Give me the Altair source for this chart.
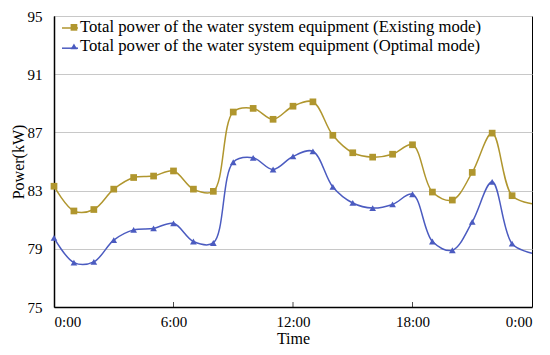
import altair as alt
import pandas as pd

hours = list(range(25))
existing = [83.3, 81.6, 81.7, 83.1, 83.9, 84.0, 84.35, 83.1, 82.95, 88.4, 88.65, 87.9,
            88.8, 89.1, 86.8, 85.6, 85.3, 85.5, 86.15, 82.9, 82.35, 84.25, 86.95, 82.65, 82.1]
optimal = [79.75, 78.05, 78.1, 79.6, 80.3, 80.4, 80.75, 79.5, 79.4, 84.95, 85.25, 84.45,
           85.35, 85.7, 83.25, 82.15, 81.8, 82.05, 82.75, 79.5, 78.9, 80.85, 83.6, 79.35, 78.7]
series_names = ["Total power of the water system equipment (Existing mode)",
                "Total power of the water system equipment (Optimal mode)"]
colors = ["#B0962E", "#4B5BC0"]
marker_shapes = ["square", "triangle-up"]
x_ticks = [0, 6, 12, 18, 24]
x_tick_labels = ["0:00", "6:00", "12:00", "18:00", "0:00"]
y_ticks = [75, 79, 83, 87, 91, 95]
inner_ticks = [6, 12, 18]

rows = []
for h, e, o in zip(hours, existing, optimal):
    rows.append({"hour": h, "power": e, "series": series_names[0], "series_l": series_names[0]})
    rows.append({"hour": h, "power": o, "series": series_names[1], "series_l": series_names[1]})
df = pd.DataFrame(rows)
tick_df = pd.DataFrame({"hour": inner_ticks})

FONT = "Liberation Serif"
label_expr = "[" + ",".join("'%s'" % s for s in x_tick_labels) + "][datum.value/6]"

x_enc = alt.X("hour:Q", scale=alt.Scale(domain=[0, 24], nice=False),
              axis=alt.Axis(values=x_ticks, labelExpr=label_expr, title="Time", grid=False,
                            tickSize=0, labelPadding=7, titlePadding=1,
                            domainColor="black", domainWidth=1.5))
y_enc = alt.Y("power:Q", scale=alt.Scale(domain=[75, 95], nice=False, zero=False),
              axis=alt.Axis(values=y_ticks, title="Power(kW)", grid=True, gridColor="#C8C8C8",
                            tickSize=0, labelPadding=12, titlePadding=1,
                            domainColor="black", domainWidth=1.5))

line_legend = alt.Legend(orient="none", legendX=7, legendY=3, title=None, padding=0,
                         symbolType="stroke", symbolSize=256, symbolStrokeWidth=1.5,
                         labelExpr="''", labelFontSize=16.7, labelOffset=0,
                         rowPadding=2.2)
point_legend = alt.Legend(orient="none", legendX=11.6, legendY=3, title=None, padding=0,
                          symbolSize=45, symbolStrokeWidth=0,
                          labelFont=FONT, labelFontSize=16.7, labelColor="black",
                          labelOffset=alt.ExprRef(expr="-2.3"),
                          rowPadding=1, labelLimit=600)

base = alt.Chart(df)

line = base.mark_line(interpolate="catmull-rom", strokeWidth=1.5).encode(
    x=x_enc, y=y_enc,
    stroke=alt.Stroke("series_l:N", scale=alt.Scale(range=colors), legend=line_legend),
)

points = base.transform_filter("datum.hour < 24").mark_point(filled=True, size=45, opacity=1).encode(
    x="hour:Q", y="power:Q",
    color=alt.Color("series:N", scale=alt.Scale(range=colors), legend=point_legend),
    shape=alt.Shape("series:N", scale=alt.Scale(range=marker_shapes), legend=point_legend),
)

ticks = alt.Chart(tick_df).mark_tick(orient="vertical", size=5, thickness=1, yOffset=-2.5, color="black").encode(
    x="hour:Q", y=alt.datum(75),
)

chart = alt.layer(line, points, ticks).properties(
    width=478, height=291, background="white",
    autosize=alt.AutoSizeParams(type="none"),
    padding={"left": 46, "top": 8, "right": 10, "bottom": 40},
).configure_view(stroke="black", strokeWidth=1).configure_axis(
    labelFont=FONT, labelFontSize=15, labelColor="black",
    titleFont=FONT, titleFontSize=16, titleFontWeight="normal", titleColor="black",
)

chart.save("out.html", embed_options={"renderer": "svg", "actions": False})
